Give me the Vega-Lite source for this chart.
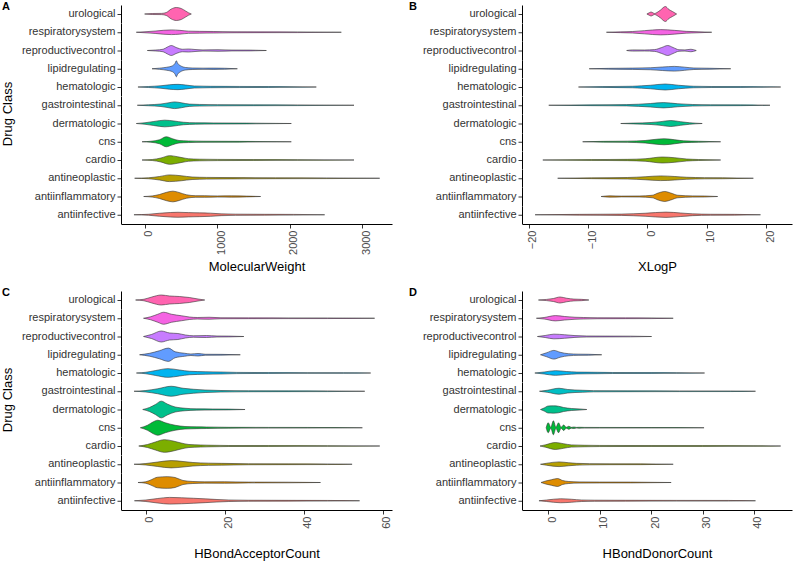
{
  "$schema": "https://vega.github.io/schema/vega-lite/v6.json",
  "padding": {"left": 2, "top": 0, "right": 2, "bottom": 0},
  "background": "white",
  "config": {
    "font": "Liberation Sans",
    "view": {"stroke": null},
    "axis": {"grid": false, "domainColor": "#000", "domainWidth": 1, "tickColor": "#333", "tickWidth": 1, "tickSize": 4, "labelColor": "#4d4d4d", "labelFont": "Liberation Sans", "labelFontSize": 11, "titleFont": "Liberation Sans", "titleFontSize": 13, "titleFontWeight": "normal", "titleColor": "#000"},
    "header": {"labelFont": "Liberation Sans", "labelFontSize": 11, "labelColor": "#333", "titleFont": "Liberation Sans", "titleFontSize": 13, "titleFontWeight": "normal", "titleColor": "#000"},
    "title": {"font": "Liberation Sans", "fontSize": 11, "fontWeight": "bold", "color": "#000", "anchor": "start", "frame": "bounds", "offset": 0}
  },
  "datasets": {
    "mw": [
      {"c":"urological","v":-5,"d":0},{"c":"urological","v":100,"d":1},{"c":"urological","v":230,"d":1.2},{"c":"urological","v":294,"d":3},{"c":"urological","v":363,"d":10},{"c":"urological","v":432,"d":13},{"c":"urological","v":500,"d":11},{"c":"urological","v":560,"d":6},{"c":"urological","v":600,"d":2.5},{"c":"urological","v":639,"d":0},
      {"c":"respiratorysystem","v":-120,"d":0},{"c":"respiratorysystem","v":0,"d":1},{"c":"respiratorysystem","v":150,"d":2.5},{"c":"respiratorysystem","v":260,"d":4},{"c":"respiratorysystem","v":363,"d":4.7},{"c":"respiratorysystem","v":480,"d":3.8},{"c":"respiratorysystem","v":600,"d":2.2},{"c":"respiratorysystem","v":750,"d":1.8},{"c":"respiratorysystem","v":950,"d":1.5},{"c":"respiratorysystem","v":1200,"d":1},{"c":"respiratorysystem","v":1600,"d":0.8},{"c":"respiratorysystem","v":2100,"d":0.7},{"c":"respiratorysystem","v":2708,"d":0},
      {"c":"reproductivecontrol","v":32,"d":0},{"c":"reproductivecontrol","v":150,"d":1},{"c":"reproductivecontrol","v":250,"d":2.5},{"c":"reproductivecontrol","v":310,"d":7},{"c":"reproductivecontrol","v":363,"d":10},{"c":"reproductivecontrol","v":430,"d":6},{"c":"reproductivecontrol","v":520,"d":2.5},{"c":"reproductivecontrol","v":600,"d":3},{"c":"reproductivecontrol","v":690,"d":2},{"c":"reproductivecontrol","v":800,"d":1.2},{"c":"reproductivecontrol","v":1007,"d":1.6},{"c":"reproductivecontrol","v":1200,"d":0.9},{"c":"reproductivecontrol","v":1450,"d":0.8},{"c":"reproductivecontrol","v":1674,"d":0},
      {"c":"lipidregulating","v":97,"d":0},{"c":"lipidregulating","v":200,"d":1.2},{"c":"lipidregulating","v":300,"d":3},{"c":"lipidregulating","v":380,"d":6},{"c":"lipidregulating","v":415,"d":11},{"c":"lipidregulating","v":432,"d":16},{"c":"lipidregulating","v":450,"d":11},{"c":"lipidregulating","v":490,"d":6},{"c":"lipidregulating","v":560,"d":2.5},{"c":"lipidregulating","v":650,"d":1.5},{"c":"lipidregulating","v":800,"d":1.2},{"c":"lipidregulating","v":950,"d":1.3},{"c":"lipidregulating","v":1100,"d":1},{"c":"lipidregulating","v":1274,"d":0},
      {"c":"hematologic","v":-97,"d":0},{"c":"hematologic","v":50,"d":1},{"c":"hematologic","v":220,"d":2.5},{"c":"hematologic","v":340,"d":4.5},{"c":"hematologic","v":455,"d":5.3},{"c":"hematologic","v":560,"d":4},{"c":"hematologic","v":680,"d":2},{"c":"hematologic","v":900,"d":1.4},{"c":"hematologic","v":1300,"d":1.1},{"c":"hematologic","v":1700,"d":0.9},{"c":"hematologic","v":2000,"d":0.7},{"c":"hematologic","v":2363,"d":0},
      {"c":"gastrointestinal","v":-106,"d":0},{"c":"gastrointestinal","v":50,"d":1},{"c":"gastrointestinal","v":220,"d":2.5},{"c":"gastrointestinal","v":330,"d":5},{"c":"gastrointestinal","v":409,"d":6.7},{"c":"gastrointestinal","v":500,"d":5},{"c":"gastrointestinal","v":610,"d":2.3},{"c":"gastrointestinal","v":750,"d":1.6},{"c":"gastrointestinal","v":1000,"d":1.2},{"c":"gastrointestinal","v":1500,"d":0.9},{"c":"gastrointestinal","v":2100,"d":0.7},{"c":"gastrointestinal","v":2883,"d":0},
      {"c":"dermatologic","v":-120,"d":0},{"c":"dermatologic","v":0,"d":1.5},{"c":"dermatologic","v":120,"d":4},{"c":"dermatologic","v":271,"d":6.7},{"c":"dermatologic","v":400,"d":5},{"c":"dermatologic","v":530,"d":2.5},{"c":"dermatologic","v":700,"d":1.4},{"c":"dermatologic","v":950,"d":1.1},{"c":"dermatologic","v":1400,"d":0.8},{"c":"dermatologic","v":2018,"d":0},
      {"c":"cns","v":-41,"d":0},{"c":"cns","v":80,"d":1},{"c":"cns","v":200,"d":4},{"c":"cns","v":294,"d":10},{"c":"cns","v":380,"d":6},{"c":"cns","v":470,"d":2.5},{"c":"cns","v":600,"d":1.6},{"c":"cns","v":800,"d":1.1},{"c":"cns","v":1300,"d":0.8},{"c":"cns","v":2018,"d":0},
      {"c":"cardio","v":-41,"d":0},{"c":"cardio","v":100,"d":1},{"c":"cardio","v":220,"d":4},{"c":"cardio","v":340,"d":8.7},{"c":"cardio","v":450,"d":6.5},{"c":"cardio","v":600,"d":2.5},{"c":"cardio","v":750,"d":1.6},{"c":"cardio","v":1000,"d":1.2},{"c":"cardio","v":1500,"d":0.9},{"c":"cardio","v":2100,"d":0.7},{"c":"cardio","v":2883,"d":0},
      {"c":"antineoplastic","v":-143,"d":0},{"c":"antineoplastic","v":50,"d":1},{"c":"antineoplastic","v":200,"d":3.5},{"c":"antineoplastic","v":340,"d":6.7},{"c":"antineoplastic","v":500,"d":5},{"c":"antineoplastic","v":650,"d":2.5},{"c":"antineoplastic","v":850,"d":1.7},{"c":"antineoplastic","v":1200,"d":1.3},{"c":"antineoplastic","v":1800,"d":0.9},{"c":"antineoplastic","v":2500,"d":0.7},{"c":"antineoplastic","v":3237,"d":0},
      {"c":"antiinflammatory","v":-18,"d":0},{"c":"antiinflammatory","v":100,"d":1.2},{"c":"antiinflammatory","v":200,"d":4},{"c":"antiinflammatory","v":300,"d":8.5},{"c":"antiinflammatory","v":386,"d":10.7},{"c":"antiinflammatory","v":470,"d":8},{"c":"antiinflammatory","v":570,"d":3.5},{"c":"antiinflammatory","v":700,"d":1.6},{"c":"antiinflammatory","v":823,"d":1.6},{"c":"antiinflammatory","v":1000,"d":1.1},{"c":"antiinflammatory","v":1191,"d":1.3},{"c":"antiinflammatory","v":1400,"d":0.8},{"c":"antiinflammatory","v":1595,"d":0},
      {"c":"antiinfective","v":-152,"d":0},{"c":"antiinfective","v":50,"d":1},{"c":"antiinfective","v":200,"d":3},{"c":"antiinfective","v":350,"d":4.5},{"c":"antiinfective","v":455,"d":5},{"c":"antiinfective","v":600,"d":4.3},{"c":"antiinfective","v":750,"d":3.8},{"c":"antiinfective","v":900,"d":3.2},{"c":"antiinfective","v":1050,"d":1.8},{"c":"antiinfective","v":1250,"d":1.2},{"c":"antiinfective","v":1650,"d":0.9},{"c":"antiinfective","v":2050,"d":0.7},{"c":"antiinfective","v":2478,"d":0}
    ],
    "xlogp": [
      {"c":"urological","v":-0.1,"d":0},{"c":"urological","v":0.3,"d":2.5},{"c":"urological","v":0.6,"d":4},{"c":"urological","v":0.9,"d":2.5},{"c":"urological","v":1.2,"d":1},{"c":"urological","v":1.6,"d":3},{"c":"urological","v":2.2,"d":8},{"c":"urological","v":3.0,"d":15},{"c":"urological","v":3.6,"d":9},{"c":"urological","v":4.2,"d":5},{"c":"urological","v":4.9,"d":0},
      {"c":"respiratorysystem","v":-6.9,"d":0},{"c":"respiratorysystem","v":-4.5,"d":0.8},{"c":"respiratorysystem","v":-2.5,"d":1.5},{"c":"respiratorysystem","v":-0.5,"d":3.2},{"c":"respiratorysystem","v":2.2,"d":5.3},{"c":"respiratorysystem","v":4.5,"d":3.8},{"c":"respiratorysystem","v":6.5,"d":1.8},{"c":"respiratorysystem","v":8.5,"d":1},{"c":"respiratorysystem","v":10.8,"d":0},
      {"c":"reproductivecontrol","v":-3.5,"d":0},{"c":"reproductivecontrol","v":-2.5,"d":1.2},{"c":"reproductivecontrol","v":-0.5,"d":1},{"c":"reproductivecontrol","v":1.2,"d":1.8},{"c":"reproductivecontrol","v":2.4,"d":6},{"c":"reproductivecontrol","v":3.4,"d":10},{"c":"reproductivecontrol","v":4.3,"d":6},{"c":"reproductivecontrol","v":5.3,"d":1.5},{"c":"reproductivecontrol","v":6.3,"d":1.2},{"c":"reproductivecontrol","v":7.3,"d":2.5},{"c":"reproductivecontrol","v":8.2,"d":0},
      {"c":"lipidregulating","v":-9.8,"d":0},{"c":"lipidregulating","v":-6.5,"d":0.8},{"c":"lipidregulating","v":-2.5,"d":1.3},{"c":"lipidregulating","v":0.5,"d":2},{"c":"lipidregulating","v":2.5,"d":3.5},{"c":"lipidregulating","v":4.5,"d":4.7},{"c":"lipidregulating","v":6.2,"d":3.2},{"c":"lipidregulating","v":7.8,"d":1.5},{"c":"lipidregulating","v":10.5,"d":1},{"c":"lipidregulating","v":14,"d":0},
      {"c":"hematologic","v":-11.6,"d":0},{"c":"hematologic","v":-7.5,"d":0.8},{"c":"hematologic","v":-2.5,"d":1.5},{"c":"hematologic","v":0.5,"d":3.5},{"c":"hematologic","v":3.0,"d":6},{"c":"hematologic","v":5.2,"d":3.5},{"c":"hematologic","v":7.7,"d":1.5},{"c":"hematologic","v":10.7,"d":1},{"c":"hematologic","v":15.7,"d":0.8},{"c":"hematologic","v":22.4,"d":0},
      {"c":"gastrointestinal","v":-16.6,"d":0},{"c":"gastrointestinal","v":-9.5,"d":0.8},{"c":"gastrointestinal","v":-3.5,"d":1.3},{"c":"gastrointestinal","v":0.5,"d":3.5},{"c":"gastrointestinal","v":2.7,"d":5.3},{"c":"gastrointestinal","v":5.1,"d":3},{"c":"gastrointestinal","v":7.6,"d":1.5},{"c":"gastrointestinal","v":10.6,"d":1},{"c":"gastrointestinal","v":15.6,"d":0.8},{"c":"gastrointestinal","v":20.6,"d":0},
      {"c":"dermatologic","v":-4.5,"d":0},{"c":"dermatologic","v":-2.4,"d":0.8},{"c":"dermatologic","v":0.6,"d":2},{"c":"dermatologic","v":2.1,"d":3.5},{"c":"dermatologic","v":3.9,"d":6},{"c":"dermatologic","v":5.6,"d":3.5},{"c":"dermatologic","v":7.1,"d":1.5},{"c":"dermatologic","v":9.2,"d":0},
      {"c":"cns","v":-10.9,"d":0},{"c":"cns","v":-7.4,"d":0.8},{"c":"cns","v":-3.4,"d":1.2},{"c":"cns","v":-0.4,"d":2.5},{"c":"cns","v":1.1,"d":4.5},{"c":"cns","v":2.8,"d":6},{"c":"cns","v":4.6,"d":4},{"c":"cns","v":6.1,"d":1.8},{"c":"cns","v":8.6,"d":1},{"c":"cns","v":12.3,"d":0},
      {"c":"cardio","v":-17.6,"d":0},{"c":"cardio","v":-9.4,"d":0.8},{"c":"cardio","v":-3.4,"d":1.3},{"c":"cardio","v":-0.4,"d":2.5},{"c":"cardio","v":2.5,"d":6},{"c":"cardio","v":4.6,"d":4.5},{"c":"cardio","v":6.6,"d":2},{"c":"cardio","v":8.6,"d":1},{"c":"cardio","v":12.3,"d":0},
      {"c":"antineoplastic","v":-15.1,"d":0},{"c":"antineoplastic","v":-9.4,"d":0.8},{"c":"antineoplastic","v":-3.4,"d":1.5},{"c":"antineoplastic","v":-0.4,"d":3},{"c":"antineoplastic","v":2.2,"d":4.7},{"c":"antineoplastic","v":4.6,"d":3.5},{"c":"antineoplastic","v":6.6,"d":2},{"c":"antineoplastic","v":9.6,"d":1.2},{"c":"antineoplastic","v":12.6,"d":1},{"c":"antineoplastic","v":17.8,"d":0},
      {"c":"antiinflammatory","v":-7.8,"d":0},{"c":"antiinflammatory","v":-6.3,"d":1.3},{"c":"antiinflammatory","v":-4.4,"d":0.8},{"c":"antiinflammatory","v":-1.4,"d":1},{"c":"antiinflammatory","v":0.8,"d":2.5},{"c":"antiinflammatory","v":1.8,"d":7},{"c":"antiinflammatory","v":2.9,"d":10},{"c":"antiinflammatory","v":3.9,"d":7},{"c":"antiinflammatory","v":5.1,"d":2.5},{"c":"antiinflammatory","v":7.6,"d":1.2},{"c":"antiinflammatory","v":9.6,"d":1},{"c":"antiinflammatory","v":11.8,"d":0},
      {"c":"antiinfective","v":-18.9,"d":0},{"c":"antiinfective","v":-11.4,"d":0.8},{"c":"antiinfective","v":-4.4,"d":1.3},{"c":"antiinfective","v":-0.4,"d":3},{"c":"antiinfective","v":3.1,"d":5.3},{"c":"antiinfective","v":5.6,"d":3.5},{"c":"antiinfective","v":7.6,"d":1.8},{"c":"antiinfective","v":10.6,"d":1},{"c":"antiinfective","v":14.6,"d":0.8},{"c":"antiinfective","v":19,"d":0}
    ],
    "hba": [
      {"c":"urological","v":-2.6,"d":0},{"c":"urological","v":-0.5,"d":1.5},{"c":"urological","v":1.5,"d":6},{"c":"urological","v":3.9,"d":10},{"c":"urological","v":6,"d":8},{"c":"urological","v":8.5,"d":7},{"c":"urological","v":11,"d":5},{"c":"urological","v":13.2,"d":2},{"c":"urological","v":14.9,"d":0},
      {"c":"respiratorysystem","v":-0.6,"d":0},{"c":"respiratorysystem","v":1.2,"d":3},{"c":"respiratorysystem","v":3,"d":8},{"c":"respiratorysystem","v":4.5,"d":12},{"c":"respiratorysystem","v":6.5,"d":8},{"c":"respiratorysystem","v":9,"d":5},{"c":"respiratorysystem","v":11,"d":2.5},{"c":"respiratorysystem","v":13,"d":1.5},{"c":"respiratorysystem","v":16,"d":2},{"c":"respiratorysystem","v":19,"d":1},{"c":"respiratorysystem","v":26,"d":0.8},{"c":"respiratorysystem","v":36,"d":0.7},{"c":"respiratorysystem","v":46,"d":0.6},{"c":"respiratorysystem","v":57.9,"d":0},
      {"c":"reproductivecontrol","v":-0.6,"d":0},{"c":"reproductivecontrol","v":1.4,"d":4},{"c":"reproductivecontrol","v":3.9,"d":11},{"c":"reproductivecontrol","v":6,"d":7},{"c":"reproductivecontrol","v":8.1,"d":6},{"c":"reproductivecontrol","v":10,"d":3},{"c":"reproductivecontrol","v":12,"d":1.5},{"c":"reproductivecontrol","v":15.3,"d":2},{"c":"reproductivecontrol","v":18,"d":1},{"c":"reproductivecontrol","v":21,"d":0.8},{"c":"reproductivecontrol","v":24.8,"d":0},
      {"c":"lipidregulating","v":-1.6,"d":0},{"c":"lipidregulating","v":1,"d":3},{"c":"lipidregulating","v":3.4,"d":8},{"c":"lipidregulating","v":5.7,"d":13.3},{"c":"lipidregulating","v":7.4,"d":6},{"c":"lipidregulating","v":9.8,"d":3},{"c":"lipidregulating","v":11.4,"d":1.5},{"c":"lipidregulating","v":13.2,"d":2.5},{"c":"lipidregulating","v":15,"d":1},{"c":"lipidregulating","v":19,"d":0.8},{"c":"lipidregulating","v":23.9,"d":0},
      {"c":"hematologic","v":-2.4,"d":0},{"c":"hematologic","v":0,"d":1.5},{"c":"hematologic","v":2.5,"d":5},{"c":"hematologic","v":5.6,"d":8.7},{"c":"hematologic","v":8.5,"d":6},{"c":"hematologic","v":11,"d":3.5},{"c":"hematologic","v":15,"d":2.5},{"c":"hematologic","v":19,"d":2},{"c":"hematologic","v":23,"d":1.2},{"c":"hematologic","v":31,"d":0.8},{"c":"hematologic","v":41,"d":0.7},{"c":"hematologic","v":50,"d":0.6},{"c":"hematologic","v":56.9,"d":0},
      {"c":"gastrointestinal","v":-3,"d":0},{"c":"gastrointestinal","v":0,"d":1.5},{"c":"gastrointestinal","v":3,"d":5},{"c":"gastrointestinal","v":6.4,"d":10},{"c":"gastrointestinal","v":9.4,"d":6},{"c":"gastrointestinal","v":12,"d":4},{"c":"gastrointestinal","v":15,"d":2.5},{"c":"gastrointestinal","v":19,"d":1.5},{"c":"gastrointestinal","v":26,"d":1},{"c":"gastrointestinal","v":36,"d":0.8},{"c":"gastrointestinal","v":46,"d":0.7},{"c":"gastrointestinal","v":55.4,"d":0},
      {"c":"dermatologic","v":-0.8,"d":0},{"c":"dermatologic","v":0.9,"d":4},{"c":"dermatologic","v":2.4,"d":10},{"c":"dermatologic","v":3.9,"d":16.7},{"c":"dermatologic","v":5.4,"d":11},{"c":"dermatologic","v":7.4,"d":5},{"c":"dermatologic","v":9.9,"d":2.5},{"c":"dermatologic","v":12.9,"d":1.3},{"c":"dermatologic","v":16.9,"d":1},{"c":"dermatologic","v":20.9,"d":0.8},{"c":"dermatologic","v":25.1,"d":0},
      {"c":"cns","v":-1.4,"d":0},{"c":"cns","v":0.4,"d":5},{"c":"cns","v":1.9,"d":12},{"c":"cns","v":3.0,"d":15},{"c":"cns","v":4.9,"d":10},{"c":"cns","v":7.4,"d":5},{"c":"cns","v":9.9,"d":2.5},{"c":"cns","v":12.9,"d":1.8},{"c":"cns","v":15.3,"d":1.5},{"c":"cns","v":21,"d":0.9},{"c":"cns","v":31,"d":0.7},{"c":"cns","v":41,"d":0.6},{"c":"cns","v":54.8,"d":0},
      {"c":"cardio","v":-1.8,"d":0},{"c":"cardio","v":0.4,"d":3},{"c":"cardio","v":2.4,"d":8},{"c":"cardio","v":4.7,"d":12.7},{"c":"cardio","v":6.9,"d":10},{"c":"cardio","v":8.9,"d":6},{"c":"cardio","v":10.9,"d":3},{"c":"cardio","v":13.9,"d":2},{"c":"cardio","v":16.5,"d":1.5},{"c":"cardio","v":21,"d":1},{"c":"cardio","v":31,"d":0.8},{"c":"cardio","v":46,"d":0.6},{"c":"cardio","v":59.2,"d":0},
      {"c":"antineoplastic","v":-3,"d":0},{"c":"antineoplastic","v":0,"d":1.5},{"c":"antineoplastic","v":3,"d":4.5},{"c":"antineoplastic","v":6.4,"d":7.3},{"c":"antineoplastic","v":9.4,"d":5.5},{"c":"antineoplastic","v":11.9,"d":3.5},{"c":"antineoplastic","v":15.9,"d":2.2},{"c":"antineoplastic","v":19.1,"d":1.8},{"c":"antineoplastic","v":26,"d":1},{"c":"antineoplastic","v":36,"d":0.8},{"c":"antineoplastic","v":46,"d":0.6},{"c":"antineoplastic","v":52.2,"d":0},
      {"c":"antiinflammatory","v":-2,"d":0},{"c":"antiinflammatory","v":0,"d":1.5},{"c":"antiinflammatory","v":1.5,"d":6},{"c":"antiinflammatory","v":2.9,"d":10.5},{"c":"antiinflammatory","v":5.4,"d":11.7},{"c":"antiinflammatory","v":7.4,"d":10},{"c":"antiinflammatory","v":9.4,"d":4},{"c":"antiinflammatory","v":11.9,"d":2},{"c":"antiinflammatory","v":14.9,"d":1.3},{"c":"antiinflammatory","v":19.9,"d":1.5},{"c":"antiinflammatory","v":26,"d":0.8},{"c":"antiinflammatory","v":36,"d":0.6},{"c":"antiinflammatory","v":44.2,"d":0},
      {"c":"antiinfective","v":-2.9,"d":0},{"c":"antiinfective","v":0,"d":1.5},{"c":"antiinfective","v":3,"d":4.5},{"c":"antiinfective","v":6,"d":6.7},{"c":"antiinfective","v":9,"d":6},{"c":"antiinfective","v":12,"d":5},{"c":"antiinfective","v":15,"d":3.8},{"c":"antiinfective","v":18,"d":2.5},{"c":"antiinfective","v":21,"d":1.5},{"c":"antiinfective","v":26,"d":1},{"c":"antiinfective","v":36,"d":0.8},{"c":"antiinfective","v":46,"d":0.6},{"c":"antiinfective","v":54.1,"d":0}
    ],
    "hbd": [
      {"c":"urological","v":-1.9,"d":0},{"c":"urological","v":-0.3,"d":1.2},{"c":"urological","v":1,"d":3},{"c":"urological","v":2.3,"d":6},{"c":"urological","v":3.6,"d":3.5},{"c":"urological","v":5,"d":1.8},{"c":"urological","v":6.5,"d":1.3},{"c":"urological","v":7.9,"d":0},
      {"c":"respiratorysystem","v":-2.3,"d":0},{"c":"respiratorysystem","v":-0.8,"d":1.5},{"c":"respiratorysystem","v":1.4,"d":5.3},{"c":"respiratorysystem","v":3.2,"d":3.5},{"c":"respiratorysystem","v":5.2,"d":2},{"c":"respiratorysystem","v":6.9,"d":1.5},{"c":"respiratorysystem","v":9.5,"d":1},{"c":"respiratorysystem","v":15,"d":0.8},{"c":"respiratorysystem","v":20,"d":0.7},{"c":"respiratorysystem","v":24.3,"d":0},
      {"c":"reproductivecontrol","v":-2.1,"d":0},{"c":"reproductivecontrol","v":-0.6,"d":2},{"c":"reproductivecontrol","v":1.1,"d":4.7},{"c":"reproductivecontrol","v":3.2,"d":3.5},{"c":"reproductivecontrol","v":5.2,"d":1.8},{"c":"reproductivecontrol","v":7.5,"d":1},{"c":"reproductivecontrol","v":12,"d":0.8},{"c":"reproductivecontrol","v":16,"d":0.7},{"c":"reproductivecontrol","v":20.1,"d":0},
      {"c":"lipidregulating","v":-1.5,"d":0},{"c":"lipidregulating","v":-0.3,"d":4},{"c":"lipidregulating","v":1.1,"d":8.7},{"c":"lipidregulating","v":2.3,"d":5},{"c":"lipidregulating","v":4,"d":2},{"c":"lipidregulating","v":5.8,"d":1.2},{"c":"lipidregulating","v":7.8,"d":1},{"c":"lipidregulating","v":10.4,"d":0},
      {"c":"hematologic","v":-2.6,"d":0},{"c":"hematologic","v":-0.8,"d":2},{"c":"hematologic","v":1.4,"d":4.7},{"c":"hematologic","v":3.5,"d":3},{"c":"hematologic","v":5.6,"d":1.8},{"c":"hematologic","v":9.5,"d":1.4},{"c":"hematologic","v":12.5,"d":1},{"c":"hematologic","v":20,"d":0.8},{"c":"hematologic","v":25,"d":0.7},{"c":"hematologic","v":30.4,"d":0},
      {"c":"gastrointestinal","v":-1.7,"d":0},{"c":"gastrointestinal","v":-0.2,"d":2},{"c":"gastrointestinal","v":2.1,"d":6},{"c":"gastrointestinal","v":3.8,"d":3.5},{"c":"gastrointestinal","v":6.6,"d":2},{"c":"gastrointestinal","v":8.8,"d":1.2},{"c":"gastrointestinal","v":15.5,"d":0.9},{"c":"gastrointestinal","v":25.5,"d":0.7},{"c":"gastrointestinal","v":35.5,"d":0.6},{"c":"gastrointestinal","v":40.3,"d":0},
      {"c":"dermatologic","v":-1.5,"d":0},{"c":"dermatologic","v":-0.8,"d":3},{"c":"dermatologic","v":0,"d":7},{"c":"dermatologic","v":1,"d":7.3},{"c":"dermatologic","v":2,"d":6.5},{"c":"dermatologic","v":3,"d":4},{"c":"dermatologic","v":4.5,"d":2},{"c":"dermatologic","v":6,"d":1.2},{"c":"dermatologic","v":7.5,"d":0},
      {"c":"cns","v":-0.4,"d":0},{"c":"cns","v":0,"d":10},{"c":"cns","v":0.5,"d":1},{"c":"cns","v":1,"d":14},{"c":"cns","v":1.5,"d":1},{"c":"cns","v":2,"d":10},{"c":"cns","v":2.5,"d":1},{"c":"cns","v":3,"d":5.5},{"c":"cns","v":3.5,"d":0.8},{"c":"cns","v":4,"d":3},{"c":"cns","v":4.5,"d":0.8},{"c":"cns","v":5,"d":1.5},{"c":"cns","v":5.5,"d":0.7},{"c":"cns","v":6,"d":1},{"c":"cns","v":7,"d":0.7},{"c":"cns","v":10,"d":0.6},{"c":"cns","v":20,"d":0.5},{"c":"cns","v":30.3,"d":0},
      {"c":"cardio","v":-1.6,"d":0},{"c":"cardio","v":-0.5,"d":2.5},{"c":"cardio","v":1.4,"d":7},{"c":"cardio","v":3,"d":4.5},{"c":"cardio","v":4.5,"d":2.2},{"c":"cardio","v":7,"d":1.5},{"c":"cardio","v":10,"d":1.1},{"c":"cardio","v":20,"d":0.9},{"c":"cardio","v":30,"d":0.8},{"c":"cardio","v":40,"d":0.7},{"c":"cardio","v":45.2,"d":0},
      {"c":"antineoplastic","v":-1.5,"d":0},{"c":"antineoplastic","v":-0.3,"d":2},{"c":"antineoplastic","v":2.1,"d":4.7},{"c":"antineoplastic","v":4,"d":3},{"c":"antineoplastic","v":5.5,"d":1.8},{"c":"antineoplastic","v":8,"d":1.2},{"c":"antineoplastic","v":12,"d":0.9},{"c":"antineoplastic","v":18,"d":0.8},{"c":"antineoplastic","v":24.3,"d":0},
      {"c":"antiinflammatory","v":-1.4,"d":0},{"c":"antiinflammatory","v":-0.5,"d":3},{"c":"antiinflammatory","v":0.6,"d":5.5},{"c":"antiinflammatory","v":1.8,"d":8},{"c":"antiinflammatory","v":2.8,"d":4},{"c":"antiinflammatory","v":4,"d":2},{"c":"antiinflammatory","v":6,"d":1.2},{"c":"antiinflammatory","v":10,"d":0.9},{"c":"antiinflammatory","v":16,"d":0.8},{"c":"antiinflammatory","v":23.9,"d":0},
      {"c":"antiinfective","v":-1.8,"d":0},{"c":"antiinfective","v":-0.3,"d":1.5},{"c":"antiinfective","v":2.4,"d":4},{"c":"antiinfective","v":4.5,"d":3},{"c":"antiinfective","v":6.5,"d":1.5},{"c":"antiinfective","v":9,"d":1.1},{"c":"antiinfective","v":15,"d":0.9},{"c":"antiinfective","v":25,"d":0.7},{"c":"antiinfective","v":35,"d":0.6},{"c":"antiinfective","v":40.3,"d":0}
    ]
  },
  "vconcat": [
    {
      "hconcat": [
        {
          "data": {"name": "mw"},
          "title": {"text": "A", "dy": 10.5},
          "spacing": 0.25,
          "bounds": "flush",
          "facet": {"row": {"field": "c", "type": "nominal", "sort": "descending", "title": "Drug Class", "header": {"labelAngle": 0, "labelAlign": "left", "labelPadding": 1, "titleOrient": "left", "titlePadding": -4}}},
          "spec": {
            "width": 271, "height": 18,
            "mark": {"type": "area", "interpolate": "monotone", "stroke": "#333", "strokeWidth": 0.6},
            "encoding": {
              "x": {"field": "v", "type": "quantitative", "scale": {"domain": [-331, 3407], "nice": false, "zero": false}, "axis": {"title": "MolecularWeight", "values": [0, 1000, 2000, 3000], "format": "d", "labelAngle": 270, "labelOffset": 4, "labelPadding": 2, "titlePadding": 6}},
              "y": {"field": "d", "type": "quantitative", "stack": "center", "impute": null, "scale": {"domain": [-1, 17], "nice": false, "zero": false}, "axis": {"values": [8], "labels": false, "title": null}},
              "color": {"field": "c", "type": "nominal", "legend": null, "scale": {"domain": ["antiinfective","antiinflammatory","antineoplastic","cardio","cns","dermatologic","gastrointestinal","hematologic","lipidregulating","reproductivecontrol","respiratorysystem","urological"], "range": ["#F8766D","#DE8C00","#B79F00","#7CAE00","#00BA38","#00C08B","#00BFC4","#00B4F0","#619CFF","#C77CFF","#F564E3","#FF64B0"]}}
            }
          }
        },
        {
          "data": {"name": "xlogp"},
          "title": {"text": "B", "dy": 10.5, "dx": -14},
          "spacing": 0.25,
          "bounds": "flush",
          "facet": {"row": {"field": "c", "type": "nominal", "sort": "descending", "title": null, "header": {"labelAngle": 0, "labelAlign": "left", "labelPadding": 1}}},
          "spec": {
            "width": 270, "height": 18,
            "mark": {"type": "area", "interpolate": "monotone", "stroke": "#333", "strokeWidth": 0.6},
            "encoding": {
              "x": {"field": "v", "type": "quantitative", "scale": {"domain": [-21.1, 24.3], "nice": false, "zero": false}, "axis": {"title": "XLogP", "values": [-20, -10, 0, 10, 20], "format": "d", "labelAngle": 270, "labelOffset": 4, "labelPadding": 2, "titlePadding": 12}},
              "y": {"field": "d", "type": "quantitative", "stack": "center", "impute": null, "scale": {"domain": [-1.5, 16.5], "nice": false, "zero": false}, "axis": {"values": [7.5], "labels": false, "title": null}},
              "color": {"field": "c", "type": "nominal", "legend": null, "scale": {"domain": ["antiinfective","antiinflammatory","antineoplastic","cardio","cns","dermatologic","gastrointestinal","hematologic","lipidregulating","reproductivecontrol","respiratorysystem","urological"], "range": ["#F8766D","#DE8C00","#B79F00","#7CAE00","#00BA38","#00C08B","#00BFC4","#00B4F0","#619CFF","#C77CFF","#F564E3","#FF64B0"]}}
            }
          }
        }
      ],
      "spacing": 16
    },
    {
      "hconcat": [
        {
          "data": {"name": "hba"},
          "title": {"text": "C", "dy": 10.5},
          "spacing": 0.25,
          "bounds": "flush",
          "facet": {"row": {"field": "c", "type": "nominal", "sort": "descending", "title": "Drug Class", "header": {"labelAngle": 0, "labelAlign": "left", "labelPadding": 1, "titleOrient": "left", "titlePadding": -4}}},
          "spec": {
            "width": 271, "height": 18,
            "mark": {"type": "area", "interpolate": "monotone", "stroke": "#333", "strokeWidth": 0.6},
            "encoding": {
              "x": {"field": "v", "type": "quantitative", "scale": {"domain": [-6.3, 62.3], "nice": false, "zero": false}, "axis": {"title": "HBondAcceptorCount", "values": [0, 20, 40, 60], "format": "d", "labelAngle": 270, "labelOffset": 4, "labelPadding": 2, "titlePadding": 19}},
              "y": {"field": "d", "type": "quantitative", "stack": "center", "impute": null, "scale": {"domain": [-0.65, 17.35], "nice": false, "zero": false}, "axis": {"values": [8.35], "labels": false, "title": null}},
              "color": {"field": "c", "type": "nominal", "legend": null, "scale": {"domain": ["antiinfective","antiinflammatory","antineoplastic","cardio","cns","dermatologic","gastrointestinal","hematologic","lipidregulating","reproductivecontrol","respiratorysystem","urological"], "range": ["#F8766D","#DE8C00","#B79F00","#7CAE00","#00BA38","#00C08B","#00BFC4","#00B4F0","#619CFF","#C77CFF","#F564E3","#FF64B0"]}}
            }
          }
        },
        {
          "data": {"name": "hbd"},
          "title": {"text": "D", "dy": 10.5, "dx": -14},
          "spacing": 0.25,
          "bounds": "flush",
          "facet": {"row": {"field": "c", "type": "nominal", "sort": "descending", "title": null, "header": {"labelAngle": 0, "labelAlign": "left", "labelPadding": 1}}},
          "spec": {
            "width": 270, "height": 18,
            "mark": {"type": "area", "interpolate": "monotone", "stroke": "#333", "strokeWidth": 0.6},
            "encoding": {
              "x": {"field": "v", "type": "quantitative", "scale": {"domain": [-5.1, 47.4], "nice": false, "zero": false}, "axis": {"title": "HBondDonorCount", "values": [0, 10, 20, 30, 40], "format": "d", "labelAngle": 270, "labelOffset": 4, "labelPadding": 2, "titlePadding": 19}},
              "y": {"field": "d", "type": "quantitative", "stack": "center", "impute": null, "scale": {"domain": [-2, 16], "nice": false, "zero": false}, "axis": {"values": [7], "labels": false, "title": null}},
              "color": {"field": "c", "type": "nominal", "legend": null, "scale": {"domain": ["antiinfective","antiinflammatory","antineoplastic","cardio","cns","dermatologic","gastrointestinal","hematologic","lipidregulating","reproductivecontrol","respiratorysystem","urological"], "range": ["#F8766D","#DE8C00","#B79F00","#7CAE00","#00BA38","#00C08B","#00BFC4","#00B4F0","#619CFF","#C77CFF","#F564E3","#FF64B0"]}}
            }
          }
        }
      ],
      "spacing": 16
    }
  ],
  "spacing": 12
}
